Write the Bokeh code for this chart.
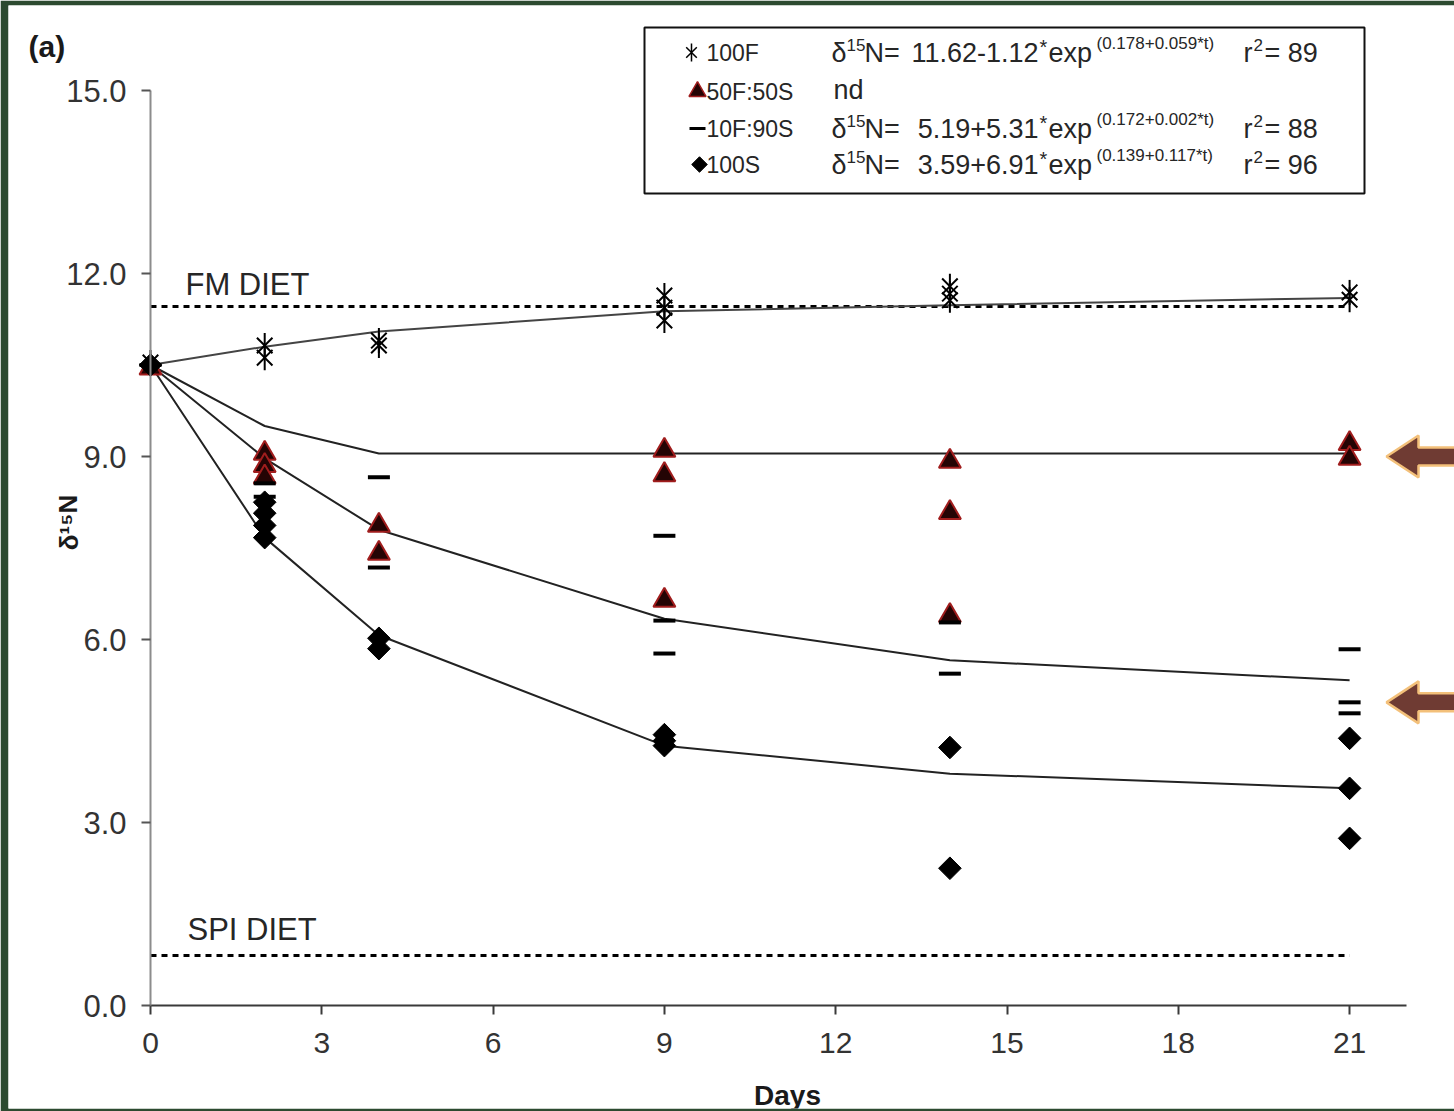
from bokeh.plotting import figure
from bokeh.models import Label, BoxAnnotation, FixedTicker
from bokeh.core.properties import value
from bokeh.embed import file_html
from bokeh.resources import INLINE

# ---------------- data ----------------
x_ticks = [0, 3, 6, 9, 12, 15, 18, 21]
y_ticks = [0.0, 3.0, 6.0, 9.0, 12.0, 15.0]
fit_days = [0, 2, 4, 9, 14, 21]

f100_day = [0, 2, 2, 4, 4, 9, 9, 9, 14, 14, 14, 21, 21]
f100_val = [10.54, 10.82, 10.62, 10.90, 10.82, 11.64, 11.44, 11.23, 11.79, 11.67, 11.56, 11.69, 11.57]

f50_day = [0, 2, 2, 2, 4, 4, 9, 9, 9, 14, 14, 14, 21, 21]
f50_val = [10.45, 9.05, 8.85, 8.66, 7.87, 7.41, 9.10, 8.70, 6.64, 8.92, 8.08, 6.39, 9.21, 8.97]

f10_day = [0, 2, 2, 4, 4, 9, 9, 9, 14, 14, 21, 21, 21]
f10_val = [10.50, 8.56, 8.34, 8.66, 7.18, 7.70, 6.31, 5.77, 6.28, 5.44, 5.84, 4.97, 4.79]

s100_day = [0, 2, 2, 2, 2, 4, 4, 9, 9, 9, 14, 14, 21, 21, 21]
s100_val = [10.50, 8.25, 8.07, 7.87, 7.67, 6.02, 5.85, 4.44, 4.34, 4.26, 4.23, 2.25, 4.38, 3.56, 2.74]

fit_100F = [10.50, 10.80, 11.05, 11.38, 11.48, 11.60]
fit_50F50S = [10.50, 9.50, 9.05, 9.05, 9.05, 9.05]
fit_10F90S = [10.50, 8.97, 7.80, 6.34, 5.66, 5.33]
fit_100S = [10.50, 7.67, 6.07, 4.26, 3.80, 3.56]

fm_diet = 11.46
spi_diet = 0.82
diet_span = [0, 21]
arrow_levels = [9.0, 4.97]

legend_names = ["100F", "50F:50S", "10F:90S", "100S"]
legend_coef = ["11.62-1.12", "", "5.19+5.31", "3.59+6.91"]
legend_sup = ["(0.178+0.059*t)", "", "(0.172+0.002*t)", "(0.139+0.117*t)"]
legend_r2 = ["89", "", "88", "96"]

# ---------------- layout helpers (page pixels -> data) ----------------
W, H = 1454, 1111
MB_LEFT, MB_RIGHT, MB_TOP, MB_BOTTOM = 8, 0, 5, 3
X0P, Y0P = 150.0, 1005.0      # page position of (0, 0)
PXD, PXV = 57.1, 61.0          # pixels per day / per unit


def px(xp):
    return (xp - X0P) / PXD


def py(yp):
    return (Y0P - yp) / PXV


X_START, X_END = px(MB_LEFT), px(W - MB_RIGHT)
Y_START, Y_END = py(H - MB_BOTTOM), py(MB_TOP)

FONT = value("Liberation Sans")
TXT = "#262626"
TRI_FILL = "#240404"
TRI_LINE = "#a01d1d"

p = figure(width=W, height=H, x_range=(X_START, X_END), y_range=(Y_START, Y_END),
           output_backend="svg", toolbar_location=None,
           min_border_left=MB_LEFT, min_border_right=MB_RIGHT,
           min_border_top=MB_TOP, min_border_bottom=MB_BOTTOM)
p.outline_line_color = None
p.xgrid.visible = False
p.ygrid.visible = False
p.background_fill_color = "white"
p.border_fill_color = "#2c4a30"

# axes (placed at the data origin, inside the frame)
p.yaxis.fixed_location = 0
p.yaxis.bounds = (0, 15)
p.yaxis.ticker = FixedTicker(ticks=y_ticks)
p.yaxis.major_label_overrides = {t: f"{t:.1f}" for t in y_ticks}
p.yaxis.axis_line_color = "#8c8c8c"
p.yaxis.axis_line_width = 2
p.yaxis.major_tick_line_color = "#555555"
p.yaxis.major_tick_line_width = 2
p.yaxis.major_tick_out = 9
p.yaxis.major_tick_in = 0
p.yaxis.minor_tick_line_color = None
p.yaxis.major_label_standoff = 15
p.yaxis.major_label_text_font = "Liberation Sans"
p.yaxis.major_label_text_font_size = "31px"
p.yaxis.major_label_text_color = "#333333"

p.xaxis.fixed_location = 0
p.xaxis.bounds = (0, 22)
p.xaxis.ticker = FixedTicker(ticks=x_ticks)
p.xaxis.axis_line_color = "#3a3a3a"
p.xaxis.axis_line_width = 2
p.xaxis.major_tick_line_color = "#3a3a3a"
p.xaxis.major_tick_line_width = 2
p.xaxis.major_tick_out = 9
p.xaxis.major_tick_in = 0
p.xaxis.minor_tick_line_color = None
p.xaxis.major_label_standoff = 18
p.xaxis.major_label_text_font = "Liberation Sans"
p.xaxis.major_label_text_font_size = "30px"
p.xaxis.major_label_text_color = "#333333"

# diet reference lines
p.line(diet_span, [fm_diet, fm_diet], line_color="black", line_width=3, line_dash="6 5")
p.line(diet_span, [spi_diet, spi_diet], line_color="black", line_width=3, line_dash="6 5")

# fitted curves
for fit, col in [(fit_100F, "#444444"), (fit_50F50S, "#222222"),
                 (fit_10F90S, "#222222"), (fit_100S, "#222222")]:
    p.line(fit_days, fit, line_color=col, line_width=2)

# observations
p.scatter(f100_day, f100_val, marker="x", size=22, line_color="black", line_width=2)
p.scatter(f100_day, f100_val, marker="dash", angle=1.5708, size=25, line_color="black", line_width=2)
p.scatter(f50_day, f50_val, marker="triangle", size=22, fill_color=TRI_FILL,
          line_color=TRI_LINE, line_width=2)
p.scatter(f10_day, f10_val, marker="dash", size=22, line_color="black", line_width=4)
p.scatter(s100_day, s100_val, marker="square", angle=0.7854, size=16, fill_color="black",
          line_color="black")

# arrows pointing at levels
for lv in arrow_levels:
    tip, head, tail = px(1386), px(1418), px(1470)
    hh, sh = 21 / PXV, 9 / PXV
    xs = [tip, head, head, tail, tail, head, head]
    ys = [lv, lv + hh, lv + sh, lv + sh, lv - sh, lv - sh, lv - hh]
    p.patch(xs, ys, fill_color="#6f3b33", line_color="#f3c07a", line_width=2.5)

# diet labels
p.text([px(185)], [py(284)], text=["FM DIET"], text_font=FONT, text_font_size="31px",
       text_color=TXT, text_baseline="middle")
p.text([px(187)], [py(929)], text=["SPI DIET"], text_font=FONT, text_font_size="31px",
       text_color=TXT, text_baseline="middle")

# legend box
p.add_layout(BoxAnnotation(left=px(644), right=px(1364), top=py(27), bottom=py(193),
                           fill_color="white", fill_alpha=1.0, line_color="#111111",
                           line_alpha=1.0, line_width=2, level="underlay"))

row_y = [52, 91, 128, 164]
MAIN = "27px"
SUP = "17px"
for i, name in enumerate(legend_names):
    yy = py(row_y[i])
    if i == 0:
        p.scatter([px(691)], [yy], marker="x", size=15, line_color="black", line_width=1.5)
        p.scatter([px(691)], [yy], marker="dash", angle=1.5708, size=18, line_color="black",
                  line_width=1.5)
    elif i == 1:
        p.scatter([px(697)], [yy], marker="triangle", size=17, fill_color=TRI_FILL,
                  line_color=TRI_LINE, line_width=1.5)
    elif i == 2:
        p.scatter([px(697)], [yy], marker="dash", size=16, line_color="black", line_width=3)
    else:
        p.scatter([px(699)], [yy], marker="square", angle=0.7854, size=11, fill_color="black",
                  line_color="black")
    p.text([px(706)], [yy], text=[name], text_font=FONT, text_font_size="23px",
           text_color=TXT, text_baseline="middle")
    if legend_coef[i] == "":
        p.text([px(833)], [yy + 2 / PXV], text=["nd"], text_font=FONT, text_font_size="27px",
               text_color=TXT, text_baseline="middle")
        continue
    p.text([px(831)], [yy], text=["δ"], text_font=FONT, text_font_size=MAIN,
           text_color=TXT, text_baseline="middle")
    p.text([px(846)], [yy + 8 / PXV], text=["15"], text_font=FONT, text_font_size=SUP,
           text_color=TXT, text_baseline="middle")
    p.text([px(864)], [yy], text=["N="], text_font=FONT, text_font_size=MAIN,
           text_color=TXT, text_baseline="middle")
    p.text([px(1038)], [yy], text=[legend_coef[i]], text_font=FONT, text_font_size=MAIN,
           text_color=TXT, text_baseline="middle", text_align="right")
    p.text([px(1039)], [yy + 6 / PXV], text=["*"], text_font=FONT, text_font_size="20px",
           text_color=TXT, text_baseline="middle")
    p.text([px(1048)], [yy], text=["exp"], text_font=FONT, text_font_size=MAIN,
           text_color=TXT, text_baseline="middle")
    p.text([px(1096)], [yy + 9 / PXV], text=[legend_sup[i]], text_font=FONT,
           text_font_size=SUP, text_color=TXT, text_baseline="middle")
    p.text([px(1243)], [yy], text=["r"], text_font=FONT, text_font_size=MAIN,
           text_color=TXT, text_baseline="middle")
    p.text([px(1253)], [yy + 8 / PXV], text=["2"], text_font=FONT, text_font_size=SUP,
           text_color=TXT, text_baseline="middle")
    p.text([px(1264)], [yy], text=["= " + legend_r2[i]], text_font=FONT, text_font_size=MAIN,
           text_color=TXT, text_baseline="middle")

# panel tag, axis titles
p.add_layout(Label(x=px(28), y=py(46), text="(a)", text_font="Liberation Sans",
                   text_font_size="30px", text_font_style="bold", text_color="#1a1a1a",
                   text_baseline="middle"))
p.add_layout(Label(x=px(68), y=py(522), text="δ¹⁵N", angle=1.5708, text_font="Liberation Sans",
                   text_font_size="26px", text_font_style="bold", text_color="#1a1a1a",
                   text_baseline="middle", text_align="center"))
p.add_layout(Label(x=px(787), y=py(1079), text="Days", text_font="Liberation Sans",
                   text_font_size="28px", text_font_style="bold", text_color="#1a1a1a",
                   text_baseline="top", text_align="center"))

open("out.html", "w").write(file_html(p, INLINE))
